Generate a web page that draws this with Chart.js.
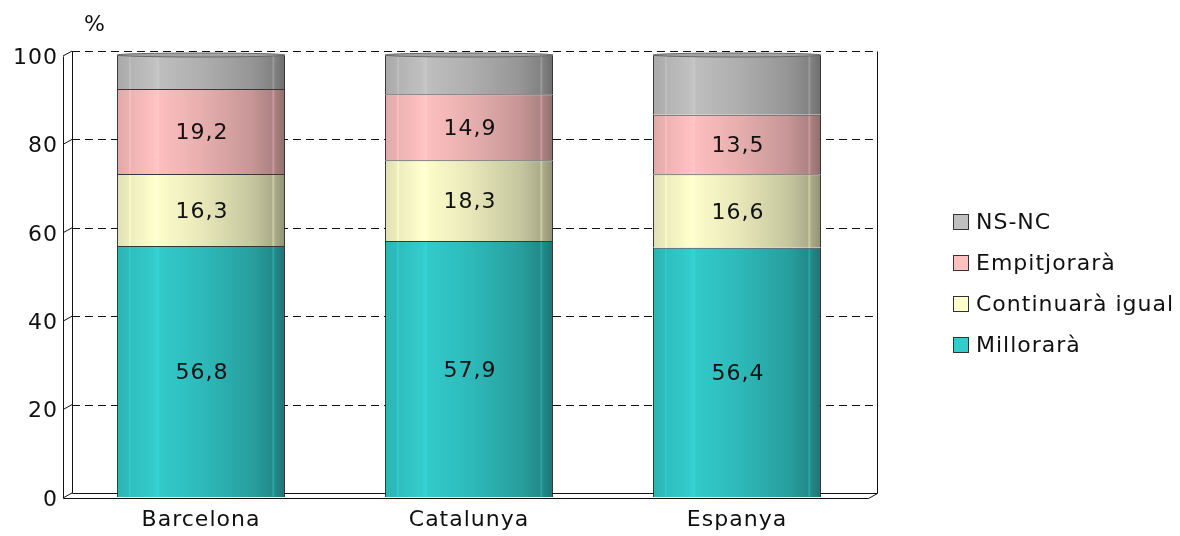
<!DOCTYPE html>
<html>
<head>
<meta charset="utf-8">
<script src="https://cdn.jsdelivr.net/npm/chart.js@4/dist/chart.umd.min.js"></script>
<style>
html,body{margin:0;padding:0;background:#fff;}
#c{display:block;}
</style>
</head>
<body>
<canvas id="c" width="1180" height="536"></canvas>
<script>
const categories = ['Barcelona', 'Catalunya', 'Espanya'];
const seriesNames = ['Millorarà', 'Continuarà igual', 'Empitjorarà', 'NS-NC'];
const millorara = [56.8, 57.9, 56.4];
const continuara = [16.3, 18.3, 16.6];
const empitjorara = [19.2, 14.9, 13.5];
const nsnc = [7.7, 8.9, 13.5];
const yTicks = [0, 20, 40, 60, 80, 100];
const unitLabel = '%';

const baseColors = [[51,204,204],[255,255,204],[255,192,192],[192,192,192]];
const FONT = 'DejaVu Sans';
const FSIZE = 22;
const SPACING = '1px';
const CAT_PCT = 0.627;

function shade(rgb, f){
  return 'rgb(' + rgb.map(c => Math.max(0, Math.min(255, Math.round(c*f)))).join(',') + ')';
}
function cyl(rgb){
  return function(ctx){
    const chart = ctx.chart;
    if (!chart.chartArea) return shade(rgb,1);
    const xs = chart.scales.x;
    const x = xs.getPixelForValue(ctx.dataIndex);
    const half = xs.width / categories.length * CAT_PCT / 2;
    const g = chart.ctx.createLinearGradient(x-half, 0, x+half, 0);
    const stops = [[0,0.88],[0.07,0.92],[0.077,1.02],[0.085,0.93],[0.22,1.0],[0.245,1.04],[0.255,0.99],
                   [0.5,0.91],[0.8,0.78],[0.92,0.68],[0.93,0.82],[0.94,0.67],[1,0.57]];
    stops.forEach(s => g.addColorStop(s[0], shade(rgb, s[1])));
    return g;
  };
}

const seriesData = [millorara, continuara, empitjorara, nsnc];

const frame = {
  id: 'frame',
  beforeDraw(chart){ chart.ctx.letterSpacing = SPACING; },
  beforeDatasetsDraw(chart){
    const {ctx, chartArea: a, scales: {y}} = chart;
    const fl = a.left - 4, fr = a.right - 3, dx = 9, dy = -5;
    const r = v => Math.round(v) + 0.5;
    const line = (x1,y1,x2,y2) => { ctx.beginPath(); ctx.moveTo(x1,y1); ctx.lineTo(x2,y2); ctx.stroke(); };
    ctx.save();
    ctx.lineWidth = 1;
    ctx.strokeStyle = '#111';
    ctx.setLineDash([8,5]);
    yTicks.forEach(v => { if (v === 0) return; const yb = r(y.getPixelForValue(v) - 4); line(fl+dx, yb, fr+dx, yb); });
    ctx.setLineDash([]);
    yTicks.forEach(v => { const yf = y.getPixelForValue(v) + 1; line(fl, yf, fl+dx, yf+dy); });
    const yTopB = r(y.getPixelForValue(100) - 4), yBotB = r(y.getPixelForValue(0) - 4);
    const yTopF = r(y.getPixelForValue(100) + 1), yBotF = r(y.getPixelForValue(0) + 1);
    line(r(fl+dx), yTopB, r(fl+dx), yBotB);
    line(r(fr+dx), yTopB, r(fr+dx), yBotB);
    line(r(fl), yTopF, r(fl), yBotF);
    line(r(fl), yBotF, r(fr), yBotF);
    line(r(fl+dx), yBotB, r(fr+dx), yBotB);
    line(r(fr), yBotF, r(fr+dx), yBotB);
    ctx.restore();
  },
  afterDatasetsDraw(chart){
    const ctx = chart.ctx;
    ctx.save();
    const topMeta = chart.getDatasetMeta(3);
    topMeta.data.forEach(el => {
      const half = el.width/2;
      ctx.beginPath();
      ctx.ellipse(el.x, el.y, half, 2, 0, 0, Math.PI*2);
      ctx.fillStyle = '#a4a4a4';
      ctx.fill();
      ctx.strokeStyle = '#666';
      ctx.lineWidth = 1;
      ctx.stroke();
    });
    ctx.letterSpacing = SPACING;
    ctx.font = FSIZE + 'px "' + FONT + '"';
    ctx.fillStyle = '#111';
    ctx.textAlign = 'center';
    ctx.textBaseline = 'middle';
    for (let d = 0; d < 3; d++){
      const meta = chart.getDatasetMeta(d);
      meta.data.forEach((el, i) => {
        const v = chart.data.datasets[d].data[i];
        ctx.fillText(v.toFixed(1).replace('.', ','), el.x + 1, (el.y + el.base)/2 + 2);
      });
    }
    ctx.restore();
  },
  afterDraw(chart){
    const ctx = chart.ctx;
    ctx.save();
    ctx.letterSpacing = SPACING;
    ctx.font = FSIZE + 'px "' + FONT + '"';
    ctx.fillStyle = '#111';
    ctx.textBaseline = 'middle';
    ctx.textAlign = 'center';
    ctx.fillText(unitLabel, 95, 25);
    ctx.textAlign = 'left';
    const rowsY = [222, 263, 304, 345];
    const order = [3, 2, 1, 0];
    order.forEach((d, k) => {
      const yy = rowsY[k];
      ctx.fillStyle = shade(baseColors[d], 1);
      ctx.fillRect(953.5, yy - 7.5, 15, 15);
      ctx.strokeStyle = '#333';
      ctx.lineWidth = 1;
      ctx.strokeRect(953.5, yy - 7.5, 15, 15);
      ctx.fillStyle = '#111';
      ctx.fillText(chart.data.datasets[d].label, 976, yy + 1);
    });
    ctx.restore();
  }
};

new Chart(document.getElementById('c'), {
  type: 'bar',
  data: {
    labels: categories,
    datasets: seriesData.map((arr, i) => ({
      label: seriesNames[i],
      data: arr,
      backgroundColor: cyl(baseColors[i]),
      borderColor: 'rgba(20,20,20,0.85)',
      borderWidth: 1,
      borderSkipped: 'bottom',
      barPercentage: 1,
      categoryPercentage: CAT_PCT
    }))
  },
  options: {
    responsive: false,
    animation: false,
    devicePixelRatio: 1,
    layout: { padding: { top: 55, right: 309, left: 0, bottom: 0 } },
    plugins: { legend: { display: false }, tooltip: { enabled: false } },
    scales: {
      x: {
        stacked: true,
        grid: { display: false, drawTicks: false },
        border: { display: false },
        ticks: { color: '#111', font: { family: FONT, size: FSIZE }, padding: 10, maxRotation: 0 },
        afterFit(s){ s.height = 39; }
      },
      y: {
        stacked: true,
        min: 0, max: 100,
        afterBuildTicks(s){ s.ticks = yTicks.map(v => ({value: v})); },
        grid: { display: false, drawTicks: false },
        border: { display: false },
        ticks: { color: '#111', font: { family: FONT, size: FSIZE }, padding: 9, labelOffset: 3 },
        afterFit(s){ s.width = 67; }
      }
    }
  },
  plugins: [frame]
});
</script>
</body>
</html>
